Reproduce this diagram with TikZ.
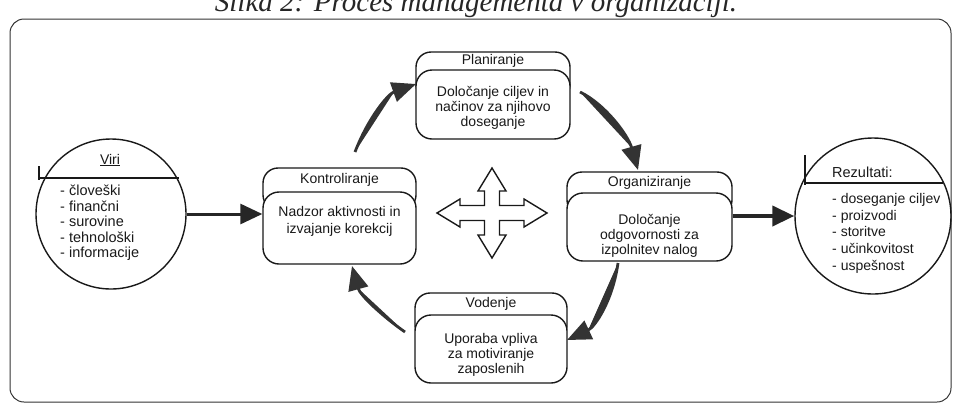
\documentclass[tikz,border=0pt]{standalone}
\usepackage{fontspec}
\setmainfont{Liberation Sans}
\newfontfamily\titlefont{Liberation Serif}
\usetikzlibrary{arrows.meta,calc}
\begin{document}
\begin{tikzpicture}[x=1pt,y=-1pt,
  backbox/.style={draw=black!90, line width=1.4pt, rounded corners=15pt, fill=white, inner sep=0pt},
  frontbox/.style={draw=black!90, line width=1.4pt, rounded corners=16pt, fill=white, inner sep=0pt},
  hdr/.style={font=\fontsize{14}{15}\selectfont, text=black!90, inner sep=0pt},
  body/.style={font=\fontsize{14}{15}\selectfont, align=center, text=black!90, inner sep=0pt},
  lst/.style={font=\fontsize{14.5}{15.5}\selectfont, align=left, anchor=north west, inner sep=0pt, text=black!90},
  ring/.style={draw=black!90, circle, line width=1.4pt, inner sep=0pt},
  thin/.style={draw=black!90, line width=1.4pt},
  flowarrow/.style={line width=3pt, draw=black!85, fill=black!85, -{Triangle[length=22pt,width=20pt]}},
  cyclearrow/.style={line width=2.8pt, draw=black!80, fill=black!80, -{Triangle[length=24pt,width=20pt]}},
]
\useasboundingbox (0,0) rectangle (957,408);

% title (cropped at top, as in the reference)
\node[font=\titlefont\itshape\fontsize{29}{29}\selectfont, anchor=base, text=black!85] (title) at (476,11) {Slika 2: Proces managementa v organizaciji.};

% frame
\node[draw=black!80, line width=1pt, rounded corners=14pt, minimum width=941pt, minimum height=383pt, inner sep=0pt] (frame) at (480.5,210.5) {};

% Viri
\node[ring, minimum size=150pt] (viri) at (111,214) {};
\draw[thin] (39,178) -- (179,178);
\draw[thin] (39,166) -- (39,180);
\node[hdr] (virit) at (110,160) {\underline{Viri}};
\node[lst] (viril) at (60,185) {- človeški\\- finančni\\- surovine\\- tehnološki\\- informacije};

% Rezultati
\node[ring, minimum size=156pt] (rez) at (873,216) {};
\draw[thin] (805,183) -- (943,183);
\draw[thin] (805,155) -- (805,185);
\node[hdr, anchor=west, font=\fontsize{14.5}{15}\selectfont] (rezt) at (832,172) {Rezultati:};
\node[lst, font=\fontsize{14}{16.7}\selectfont] (rezl) at (832,193) {- doseganje ciljev\\- proizvodi\\- storitve\\- učinkovitost\\- uspešnost};

% Planiranje
\node[backbox, minimum width=154pt, minimum height=48pt] (pb) at (493,76) {};
\node[frontbox, minimum width=154pt, minimum height=69pt] (pf) at (493,104.5) {};
\node[hdr] (ph) at (493,61) {Planiranje};
\node[body] (pt) at (493,107.5) {Določanje ciljev in\\načinov za njihovo\\doseganje};

% Kontroliranje
\node[backbox, minimum width=153pt, minimum height=42pt] (kb) at (339.5,189) {};
\node[frontbox, minimum width=153pt, minimum height=72pt] (kf) at (339.5,228) {};
\node[hdr] (kh) at (339.5,180) {Kontroliranje};
\node[body, font=\fontsize{14}{17}\selectfont] (kt) at (339.5,221.5) {Nadzor aktivnosti in\\izvajanje korekcij};

% Organiziranje
\node[backbox, minimum width=165pt, minimum height=43pt] (ob) at (649.5,193.5) {};
\node[frontbox, minimum width=165pt, minimum height=68pt] (of) at (649.5,227) {};
\node[hdr] (oh) at (649.5,183) {Organiziranje};
\node[body] (ot) at (649.5,236) {Določanje\\odgovornosti za\\izpolnitev nalog};

% Vodenje
\node[backbox, minimum width=152pt, minimum height=47pt] (vb) at (491,316.5) {};
\node[frontbox, minimum width=152pt, minimum height=68pt] (vf) at (491,349) {};
\node[hdr] (vh) at (491,304) {Vodenje};
\node[body] (vt) at (491,355) {Uporaba vpliva\\za motiviranje\\zaposlenih};

% four-way arrow
\draw[thin, fill=white, shift={(492,213)}]
  (0,-45) -- (14,-22) -- (7.5,-22) -- (7.5,-7.5) -- (32,-7.5) -- (32,-14) -- (55,0)
  -- (32,14) -- (32,7.5) -- (7.5,7.5) -- (7.5,22) -- (14,22) -- (0,45)
  -- (-14,22) -- (-7.5,22) -- (-7.5,7.5) -- (-32,7.5) -- (-32,14) -- (-55,0)
  -- (-32,-14) -- (-32,-7.5) -- (-7.5,-7.5) -- (-7.5,-22) -- (-14,-22) -- cycle;

% straight flow arrows
\draw[flowarrow] (viri.east) -- (kf.west |- viri.east);
\draw[flowarrow, line width=4pt] (of.east |- rez.west) -- (rez.west);

% cycle arrows
\coordinate (c1s) at (355,152);
\coordinate (c1e) at (416,84);
\coordinate (c2s) at (580,92);
\coordinate (c2e) at (638,170);
\coordinate (c3s) at (405,332);
\coordinate (c3e) at (352,266);
\coordinate (c4s) at (618,263);
\coordinate (c4e) at (567,340);
\draw[cyclearrow] (c1s) .. controls (368,118) and (388,94) .. (c1e);
\draw[cyclearrow] (c2s) .. controls (605,104) and (628,135) .. (c2e);
\draw[cyclearrow] (c3s) .. controls (382,316) and (360,295) .. (c3e);
\draw[cyclearrow] (c4s) .. controls (613,300) and (595,327) .. (c4e);
\end{tikzpicture}
\end{document}
